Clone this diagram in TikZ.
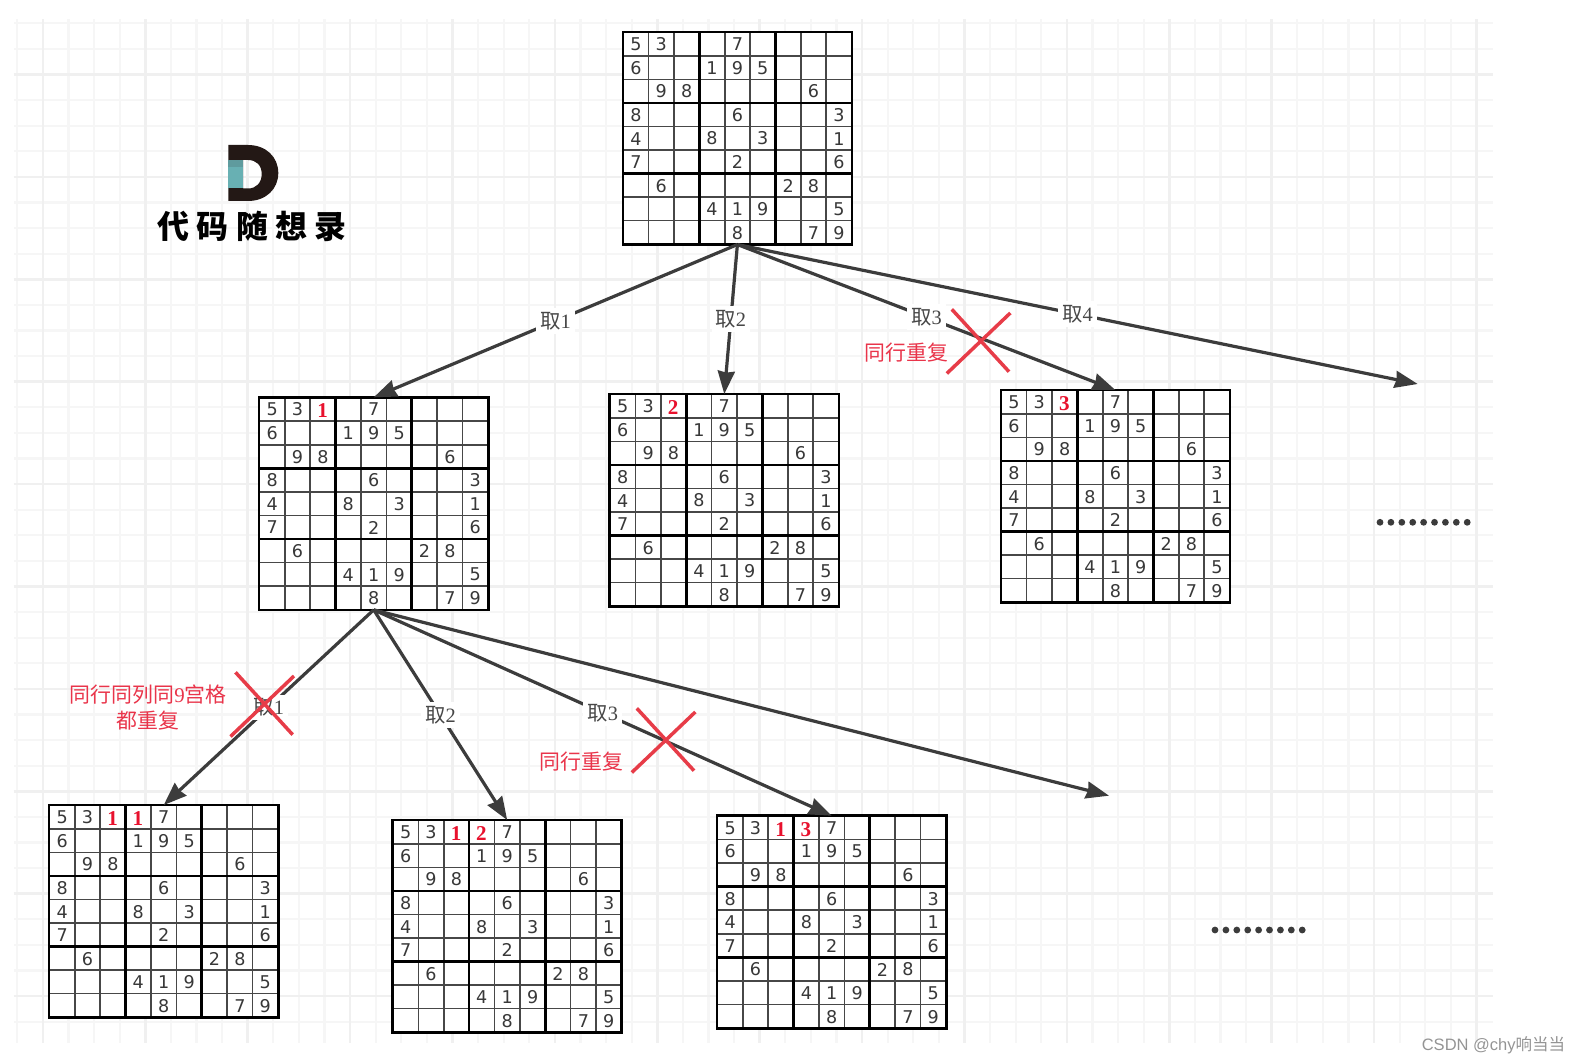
\documentclass[tikz,border=0pt]{standalone}
\usepackage{fontspec}
\setmainfont{Liberation Serif}
\newfontfamily\cjk{Noto Sans CJK SC}
\newfontfamily\numfont{DejaVu Sans}
\newfontfamily\logofont[LetterSpace=22]{Noto Sans CJK SC}
\newfontfamily\markfont{Liberation Sans}
\usetikzlibrary{calc,arrows.meta}
\definecolor{gridsoft}{HTML}{F6F6F6}
\definecolor{gridhard}{HTML}{F0F0F0}
\definecolor{inkdark}{HTML}{3C3C3C}
\definecolor{redmark}{HTML}{E73C48}
\definecolor{redtext}{HTML}{E9344A}
\definecolor{reddigit}{HTML}{E8112D}
\definecolor{logodark}{HTML}{231815}
\definecolor{logoteal}{HTML}{68B0B3}
\definecolor{logoshade}{HTML}{5F9B9E}
\tikzset{
	gridminor/.style={line width=0.45mm, color=gridsoft},
	gridmajor/.style={line width=0.55mm, color=gridhard},
	boardbox/.style={fill=white, inner sep=0, minimum width=45.68mm, minimum height=42.36mm},
	boardthin/.style={line width=0.32mm, color=black!72},
	boardthick/.style={line width=0.52mm, color=black},
	cellnum/.style={inner sep=0, text=black!78, font=\numfont\fontsize{10}{12}\selectfont},
	cellred/.style={inner sep=0, text=reddigit, font=\bfseries\fontsize{12}{14}\selectfont},
	linkline/.style={line width=0.64mm, color=inkdark, -{Stealth[length=4.6mm, width=3.4mm, inset=0.3mm]}},
	linklabel/.style={fill=white, inner sep=0.8mm, text=black!72, font=\fontsize{11.6}{13}\selectfont},
	crossline/.style={line width=0.7mm, color=redmark},
	rednote/.style={inner sep=0, align=center, text=redtext, font=\fontsize{11.9}{14.8}\selectfont},
}
\def\givens{1/1/5,1/2/3,1/5/7,2/1/6,2/4/1,2/5/9,2/6/5,3/2/9,3/3/8,3/8/6,4/1/8,4/5/6,4/9/3,5/1/4,5/4/8,5/6/3,5/9/1,6/1/7,6/5/2,6/9/6,7/2/6,7/7/2,7/8/8,8/4/4,8/5/1,8/6/9,8/9/5,9/5/8,9/8/7,9/9/9}
\def\sudokuboard#1#2#3{
	\node[boardbox] (#1) at ({#2+114.2}, {#3+105.9}) {};
	\foreach \i in {1,...,8} {
		\draw[boardthin] ({#2+\i*25.38}, #3) -- ({#2+\i*25.38}, {#3+211.8});
		\draw[boardthin] (#2, {#3+\i*23.53}) -- ({#2+228.4}, {#3+\i*23.53});
	}
	\foreach \i in {3,6} {
		\draw[boardthick] ({#2+\i*25.38}, #3) -- ({#2+\i*25.38}, {#3+211.8});
		\draw[boardthick] (#2, {#3+\i*23.53}) -- ({#2+228.4}, {#3+\i*23.53});
	}
	\draw[boardthick] (#1.south west) rectangle (#1.north east);
	\foreach \r/\c/\d in \givens {
		\node[cellnum] (#1-\r-\c) at ({#2+(\c-0.5)*25.38}, {#3+(\r-0.5)*23.6}) {\d};
	}
}
\def\reddigit#1#2#3{\node[cellred] (#1-red#2) at ($(#1.north west)+({(#2-0.5)*25.38}, 13.5)$) {#3};}
\def\crossmark(#1,#2){
	\draw[crossline] ($(#1,#2)+(-28.5,-31.7)$) -- ($(#1,#2)+(28.7,30.7)$);
	\draw[crossline] ($(#1,#2)+(30,-28)$) -- ($(#1,#2)+(-33.5,32.5)$);
}
\def\dotrow(#1,#2){
	\foreach \i in {0,...,8} {
		\fill[color=inkdark] ({#1+\i*10.9}, #2) circle (3.4);
	}
}

\begin{document}
\begin{tikzpicture}[x=0.2mm, y=-0.2mm]
	\useasboundingbox (0, 0) rectangle (1580, 1064);
	
	%%%%% PAPER %%%%%
	\foreach \i in {0,...,57} {
		\draw[gridminor] ({17.3+25.6*\i}, 19) -- ({17.3+25.6*\i}, 1043);
	}
	\foreach \j in {0,...,39} {
		\draw[gridminor] (13.5, {23.3+25.6*\j}) -- (1492.7, {23.3+25.6*\j});
	}
	\foreach \i in {1,5,...,57} {
		\draw[gridmajor] ({17.3+25.6*\i}, 19) -- ({17.3+25.6*\i}, 1043);
	}
	\foreach \j in {2,6,...,38} {
		\draw[gridmajor] (13.5, {23.3+25.6*\j}) -- (1492.7, {23.3+25.6*\j});
	}
	
	%%%%% LOGO %%%%%
	\fill[color=logodark, even odd rule] (228.3, 145) -- (248, 145) .. controls (266, 145) and (278.3, 157) .. (278.3, 173) .. controls (278.3, 189) and (266, 201) .. (248, 201) -- (228.3, 201) -- cycle
		(243, 160) -- (248, 160) .. controls (256, 160) and (261.7, 165) .. (261.7, 174) .. controls (261.7, 183) and (256, 188.5) .. (248, 188.5) -- (243, 188.5) -- cycle;
	\fill[color=logoteal] (228.3, 160) rectangle (243, 188.5);
	\fill[color=logoshade] (228.3, 160) rectangle (243, 167);
	\node[inner sep=0, text=black] (logotext) at (252, 226) {\logofont\bfseries\fontsize{18.2}{21}\selectfont 代码随想录};
	
	%%%%% BOARDS %%%%%
	\sudokuboard{root}{623.2}{32.4}
	\sudokuboard{take1}{259.5}{397.7}
	\sudokuboard{take2}{610.1}{394.4}
	\sudokuboard{take3}{1001.2}{390.4}
	\sudokuboard{next1}{49.5}{805.4}
	\sudokuboard{next2}{393}{820.4}
	\sudokuboard{next3}{717.5}{816.1}
	
	\reddigit{take1}{3}{1}
	\reddigit{take2}{3}{2}
	\reddigit{take3}{3}{3}
	\reddigit{next1}{3}{1}
	\reddigit{next1}{4}{1}
	\reddigit{next2}{3}{1}
	\reddigit{next2}{4}{2}
	\reddigit{next3}{3}{1}
	\reddigit{next3}{4}{3}
	
	%%%%% LINKS %%%%%
	\coordinate (rootfree) at (1417.7, 384);
	\coordinate (takefree) at (1109, 795.7);
	
	\draw[linkline] (root.south) -- node[linklabel] (label11) {{\cjk 取}1} (take1.north);
	\draw[linkline] (root.south) -- node[linklabel] (label12) {{\cjk 取}2} (take2.north);
	\draw[linkline] (root.south) -- node[linklabel] (label13) {{\cjk 取}3} (take3.north);
	\draw[linkline] (root.south) -- node[linklabel] (label14) {{\cjk 取}4} (rootfree);
	
	\draw[linkline] (take1.south) -- node[linklabel] (label21) {{\cjk 取}1} (next1.north);
	\draw[linkline] (take1.south) -- node[linklabel] (label22) {{\cjk 取}2} (next2.north);
	\draw[linkline] (take1.south) -- node[linklabel] (label23) {{\cjk 取}3} (next3.north);
	\draw[linkline] (take1.south) -- (takefree);
	
	%%%%% MARKS %%%%%
	\crossmark(980.3,341)
	\crossmark(665.3,740)
	\crossmark(264,704)
	
	\node[rednote] (note1) at (906.7, 353) {\cjk 同行重复};
	\node[rednote] (note2) at (581.7, 761.7) {\cjk 同行重复};
	\node[rednote] (note3) at (148.3, 707) {{\cjk 同行同列同}9{\cjk 宫格}\\{\cjk 都重复}};
	
	\dotrow(1380,522.3)
	\dotrow(1215,930)
	
	\node[inner sep=0, text=black!42] (watermark) at (1493.5, 1045) {\fontsize{9.4}{11}\selectfont\markfont CSDN @chy{\cjk 响当当}};
\end{tikzpicture}
\end{document}
